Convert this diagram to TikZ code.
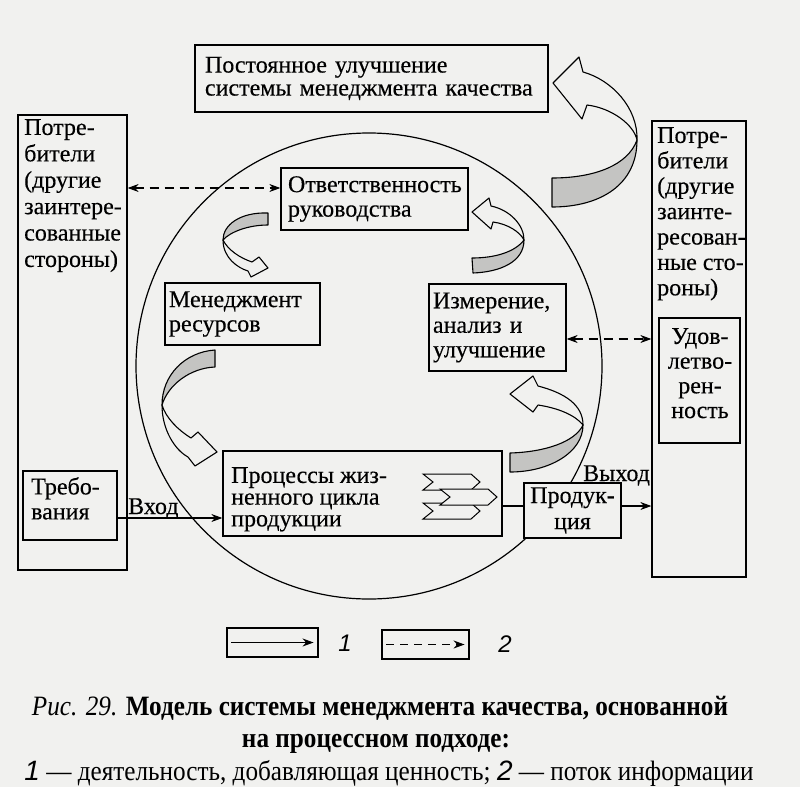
\documentclass[tikz,border=0pt]{standalone}
\usepackage{fontspec}
\setmainfont[FakeBold=0.3]{Liberation Serif}
\newfontfamily\capfont[FakeStretch=0.9]{Liberation Serif}
\newfontfamily\digfont{Liberation Sans}
\usetikzlibrary{arrows.meta,calc}
\definecolor{bg}{RGB}{241,241,239}
\definecolor{ribbon}{RGB}{196,196,194}
\tikzset{
 box/.style={draw, line width=1.3pt, inner sep=0pt, fill=bg, align=left, font=\fontsize{24}{24.5}\selectfont},
 txt/.style={inner sep=0pt, align=left},
 lbl/.style={inner sep=0pt, font=\fontsize{24}{24.5}\selectfont},
 ribw/.style={draw, line width=1.1pt, fill=bg, line join=round},
 ribg/.style={draw, line width=1.1pt, fill=ribbon, line join=round},
 act/.style={line width=1.1pt, -{Stealth[length=11pt,width=8pt]}},
 info/.style={line width=1.1pt, dash pattern=on 9pt off 6pt, {Stealth[length=11pt,width=8pt]}-{Stealth[length=11pt,width=8pt]}},
 chev/.style={draw, line width=1pt, fill=bg},
 captext/.style={inner sep=0pt, font=\capfont\fontsize{28}{28}\selectfont},
 digit/.style={inner sep=0pt, font=\digfont\itshape\fontsize{24}{24}\selectfont},
}
\newcommand\mychev[2]{\filldraw[chev] (#1,#2) -- ++(48,0) -- ++(9,8) -- ++(-9,8) -- ++(-48,0) -- ++(10,-8) -- cycle;}
\begin{document}
\begin{tikzpicture}[x=1pt,y=-1pt]
\fill[bg] (0,0) rectangle (800,787);
\useasboundingbox (0,0) rectangle (800,787);

% big cycle
\node[draw, line width=1.2pt, circle, minimum size=466pt, inner sep=0pt] (cyc) at (369,366) {};

% boxes
\node[box, minimum width=353pt, minimum height=67pt, text width=333pt, font=\fontsize{24}{23}\selectfont] (imp) at (371.5,78.5) {Постоянное улучшение\\системы менеджмента качества};
\node[box, minimum width=109pt, minimum height=455pt] (lcust) at (72.5,342.5) {};
\node[txt, anchor=north west, font=\fontsize{24}{26.4}\selectfont] (lcustt) at (24,119) {Потре-\\бители\\(другие\\заинтере-\\сованные\\стороны)};
\node[box, minimum width=94pt, minimum height=456pt] (rcust) at (699,349) {};
\node[txt, anchor=north west, font=\fontsize{24}{25.4}\selectfont] (rcustt) at (657,127) {Потре-\\бители\\(другие\\заинте-\\ресован-\\ные сто-\\роны)};
\node[box, minimum width=81pt, minimum height=125pt] (sat) at (699.5,380.5) {};
\node[txt, anchor=north, align=center, font=\fontsize{24}{24.7}\selectfont] (satt) at (700,328) {Удов-\\летво-\\рен-\\ность};
\node[box, minimum width=187pt, minimum height=62pt, text width=173pt] (resp) at (374.5,199) {Ответственность\\руководства};
\node[box, minimum width=155pt, minimum height=62pt, text width=147pt] (res) at (242.5,314) {Менеджмент\\ресурсов};
\node[box, minimum width=137pt, minimum height=87pt, text width=129pt] (meas) at (497.5,327.5) {Измерение,\\анализ и\\улучшение};
\node[box, minimum width=279pt, minimum height=85pt] (proc) at (362.5,493.5) {};
\node[txt, anchor=north west, font=\fontsize{24}{21.7}\selectfont] (proct) at (231,467) {Процессы жиз-\\ненного цикла\\продукции};
\node[box, minimum width=94pt, minimum height=69pt] (req) at (70,505.5) {};
\node[txt, anchor=north west, font=\fontsize{24}{25}\selectfont] (reqt) at (31,477) {Требо-\\вания};
\node[box, align=center, minimum width=97pt, minimum height=55pt, font=\fontsize{24}{26}\selectfont] (prod) at (572.5,510.5) {Продук-\\ция};

% chevrons
\mychev{423}{474}
\mychev{423}{503}
\mychev{440}{489}

% connectors
\coordinate (yo) at (0,506);
\coordinate (yi) at (0,518);
\draw[line width=1.1pt] (proc.east |- yo) -- (prod.west |- yo);
\draw[act] (prod.east |- yo) -- (rcust.west |- yo);
\draw[act] (req.east |- yi) -- (proc.west |- yi);
\node[lbl, anchor=base west] (vhod) at (128,514) {Вход};
\node[lbl, anchor=base west] (vyhod) at (583,481) {Выход};
\coordinate (d1) at ([yshift=11pt]resp.west);
\draw[info] (lcust.east |- d1) -- (d1);
\coordinate (d2) at ([yshift=-11.5pt]meas.east);
\draw[info] (d2) -- (rcust.west |- d2);

% ribbon arrows
% B1 big
\filldraw[ribw] (583,72) .. controls (612,80) and (638,108) .. (637,140) .. controls (634,125) and (612,108) .. (587,105) -- (582,119) -- (553,83) -- (579,57) -- cycle;
\filldraw[ribg] (637,140) .. controls (637,185) and (600,207) .. (552,207) -- (552,178) .. controls (595,178) and (628,165) .. (637,140) -- cycle;
% B2
\filldraw[ribw] (491,206) .. controls (510,210) and (524,225) .. (524,240) .. controls (520,232) and (508,224) .. (493,222) -- (491,229) -- (472,212) -- (489,198) -- cycle;
\filldraw[ribg] (524,240) .. controls (524,262) and (500,272) .. (473,273) -- (472,258) .. controls (495,258) and (515,252) .. (524,240) -- cycle;
% B3
\filldraw[ribg] (268,213) .. controls (240,212) and (223,225) .. (223,240) .. controls (230,232) and (248,225) .. (268,225) -- cycle;
\filldraw[ribw] (223,240) .. controls (223,258) and (238,268) .. (248,271) -- (251,277) -- (268,268) -- (259,257) -- (252,262) .. controls (240,258) and (228,250) .. (223,240) -- cycle;
% B4
\filldraw[ribg] (215,350) .. controls (185,352) and (162,375) .. (162,405) .. controls (168,385) and (190,368) .. (215,367) -- cycle;
\filldraw[ribw] (162,405) .. controls (162,430) and (175,450) .. (188,457) -- (195,466) -- (217,452) -- (198,432) -- (191,438) .. controls (178,430) and (166,418) .. (162,405) -- cycle;
% B5
\filldraw[ribg] (510,472) .. controls (550,472) and (583,452) .. (583,425) .. controls (575,442) and (545,452) .. (510,453) -- cycle;
\filldraw[ribw] (583,425) .. controls (583,405) and (565,393) .. (538,386) -- (533,376) -- (510,394) -- (533,412) -- (538,405) .. controls (558,408) and (575,415) .. (583,425) -- cycle;

% legend
\node[draw, line width=1.1pt, minimum width=91pt, minimum height=29pt, inner sep=0pt] (lg1) at (272.5,642.5) {};
\draw[act] ([xshift=5pt]lg1.west) -- ([xshift=-5pt]lg1.east);
\node[digit] (lg1t) at (345,643) {1};
\node[draw, line width=1.1pt, minimum width=87pt, minimum height=29pt, inner sep=0pt] (lg2) at (425.5,644.5) {};
\draw[act, dash pattern=on 8pt off 6pt] ([xshift=5pt]lg2.west) -- ([xshift=-5pt]lg2.east);
\node[digit] (lg2t) at (505,644) {2};

% caption
\node[captext, anchor=base] (cap1) at (380,715) {{\itshape Рис. 29.} {\bfseries Модель системы менеджмента качества, основанной}};
\node[captext, anchor=base] (cap2) at (376,747) {\bfseries на процессном подходе:};
\node[captext, anchor=base] (cap3) at (389,780) {{\digfont\itshape 1} — деятельность, добавляющая ценность; {\digfont\itshape 2} — поток информации};
\end{tikzpicture}
\end{document}
